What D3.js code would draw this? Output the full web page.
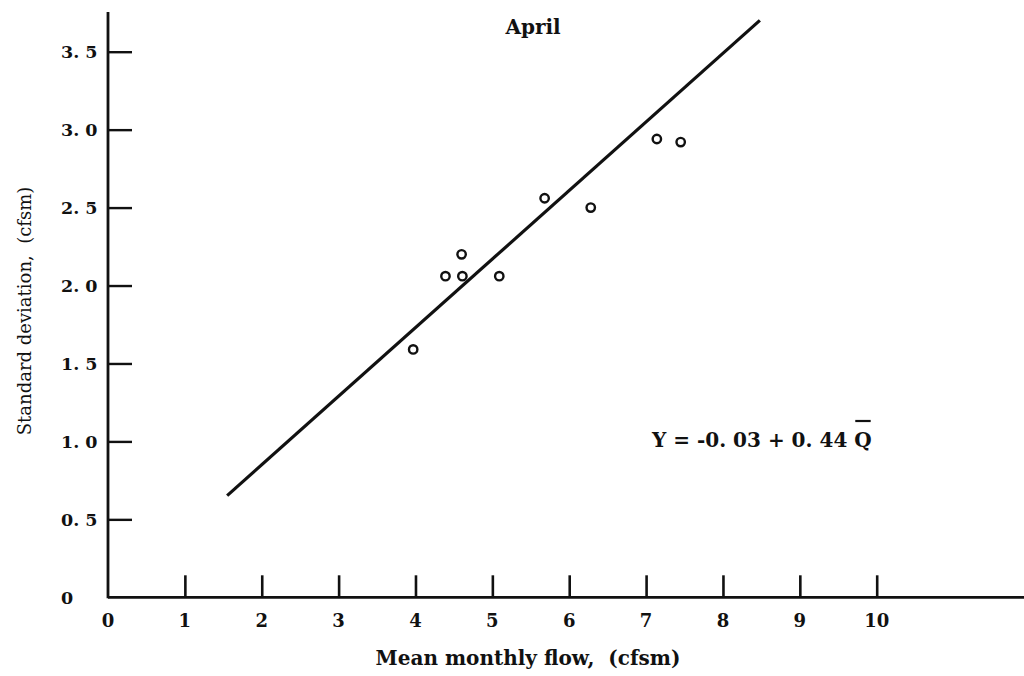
<!DOCTYPE html>
<html>
<head>
<meta charset="utf-8">
<script src="https://cdn.jsdelivr.net/npm/d3@7"></script>
<style>
  html, body { margin: 0; padding: 0; background: #fff; }
  svg { display: block; }
  text { font-family: "DejaVu Serif", "Liberation Serif", serif; fill: #111; font-weight: bold; white-space: pre; }
  text.ytitle { font-weight: normal; }
</style>
</head>
<body>
<svg id="chart" width="1024" height="676"></svg>
<script>
// Mean monthly flow (cfsm) and standard deviation (cfsm) for April
const flowMean = [3.97, 4.39, 4.60, 4.61, 5.09, 5.68, 6.28, 7.14, 7.45];
const flowStd  = [1.59, 2.06, 2.20, 2.06, 2.06, 2.56, 2.50, 2.94, 2.92];

// Regression line Y = a + b * Q
const fitIntercept = -0.03;
const fitSlope = 0.44;
const fitRange = [1.55, 8.48];

const xTicks = [0, 1, 2, 3, 4, 5, 6, 7, 8, 9, 10];
const xTickLabels = ["0", "1", "2", "3", "4", "5", "6", "7", "8", "9", "10"];
const yTicks = [0, 0.5, 1.0, 1.5, 2.0, 2.5, 3.0, 3.5];
const yTickLabels = ["0", "0. 5", "1. 0", "1. 5", "2. 0", "2. 5", "3. 0", "3. 5"];

const svg = d3.select("#chart");
const ink = "#111";

const x = d3.scaleLinear().domain([0, 10]).range([108, 876.7]);
const y = d3.scaleLinear().domain([0, 3.5]).range([597.3, 51.7]);

// Axis lines
svg.append("line")
  .attr("x1", x(0)).attr("x2", 1024)
  .attr("y1", y(0)).attr("y2", y(0))
  .attr("stroke", ink).attr("stroke-width", 2.8);
svg.append("line")
  .attr("x1", x(0)).attr("x2", x(0))
  .attr("y1", y(0) + 1).attr("y2", 12)
  .attr("stroke", ink).attr("stroke-width", 2.8);

// X axis: ticks rise above the baseline
const xAxis = d3.axisTop(x)
  .tickValues(xTicks.slice(1))
  .tickSize(22)
  .tickFormat("");
const gx = svg.append("g").attr("transform", `translate(0,${y(0)})`).call(xAxis);
gx.select(".domain").remove();
gx.selectAll(".tick line").attr("stroke", ink).attr("stroke-width", 2.6);

svg.append("g").selectAll("text.xl")
  .data(xTicks)
  .join("text")
  .attr("class", "xl")
  .attr("x", d => x(d))
  .attr("y", 627)
  .attr("text-anchor", "middle")
  .attr("font-size", 18)
  .text((d, i) => xTickLabels[i]);

// Y axis: ticks extend into the plot
const yAxis = d3.axisRight(y)
  .tickValues(yTicks.slice(1))
  .tickSize(24)
  .tickFormat("");
const gy = svg.append("g").attr("transform", `translate(${x(0)},0)`).call(yAxis);
gy.select(".domain").remove();
gy.selectAll(".tick line").attr("stroke", ink).attr("stroke-width", 2.4);

svg.append("g").selectAll("text.yl")
  .data(yTicks)
  .join("text")
  .attr("class", "yl")
  .attr("x", 61)
  .attr("y", d => y(d))
  .attr("dy", "0.36em")
  .attr("font-size", 17.5)
  .text((d, i) => yTickLabels[i]);

// Fitted line
const fitLine = d3.line()
  .x(d => x(d))
  .y(d => y(fitIntercept + fitSlope * d));
svg.append("path")
  .datum(fitRange)
  .attr("d", fitLine)
  .attr("fill", "none")
  .attr("stroke", ink)
  .attr("stroke-width", 3.2);

// Observations
svg.append("g").selectAll("circle")
  .data(flowMean)
  .join("circle")
  .attr("cx", d => x(d))
  .attr("cy", (d, i) => y(flowStd[i]))
  .attr("r", 4.2)
  .attr("fill", "none")
  .attr("stroke", ink)
  .attr("stroke-width", 2.4);

// Titles
svg.append("text")
  .attr("x", 533).attr("y", 34)
  .attr("text-anchor", "middle")
  .attr("font-size", 20)
  .text("April");

svg.append("text")
  .attr("x", 528).attr("y", 665)
  .attr("text-anchor", "middle")
  .attr("font-size", 20)
  .text("Mean monthly flow,  (cfsm)");

svg.append("text")
  .attr("class", "ytitle")
  .attr("transform", "translate(31,311) rotate(-90)")
  .attr("text-anchor", "middle")
  .attr("font-size", 18)
  .text("Standard deviation,  (cfsm)");

// Regression equation with mean bar over Q
const eq = svg.append("text")
  .attr("x", 652).attr("y", 447)
  .attr("font-size", 20);
eq.append("tspan").text("Y = -0. 03 + 0. 44 ");
const qSpan = eq.append("tspan").text("Q");
const qBox = qSpan.node().getBBox();
svg.append("line")
  .attr("x1", qBox.x + 1).attr("x2", qBox.x + qBox.width - 1)
  .attr("y1", 421).attr("y2", 421)
  .attr("stroke", ink).attr("stroke-width", 2.2);
</script>
</body>
</html>
